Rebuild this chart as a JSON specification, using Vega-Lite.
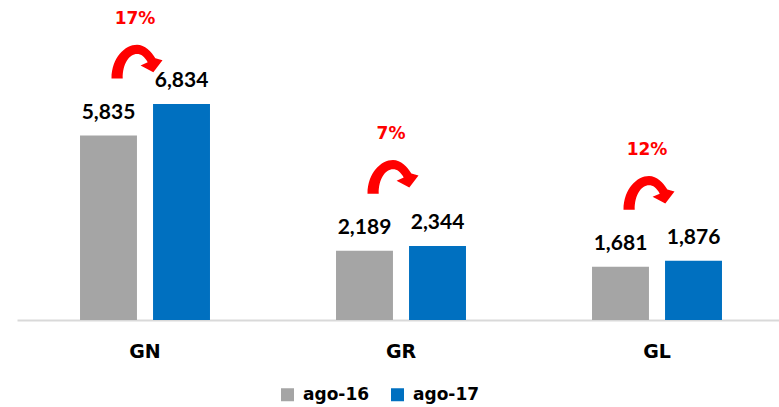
{
  "$schema": "https://vega.github.io/schema/vega-lite/v6.json",
  "width": 762,
  "height": 320,
  "autosize": {"type": "none"},
  "padding": {"left": 17, "top": 0, "right": 0, "bottom": 87},
  "background": "white",
  "config": {"view": {"stroke": null}},
  "data": {
    "values": [
      {"cat": "GN", "series": "ago-16", "value": 5835, "growth": "17%"},
      {"cat": "GN", "series": "ago-17", "value": 6834, "growth": "17%"},
      {"cat": "GR", "series": "ago-16", "value": 2189, "growth": "7%"},
      {"cat": "GR", "series": "ago-17", "value": 2344, "growth": "7%"},
      {"cat": "GL", "series": "ago-16", "value": 1681, "growth": "12%"},
      {"cat": "GL", "series": "ago-17", "value": 1876, "growth": "12%"}
    ]
  },
  "encoding": {
    "x": {
      "field": "cat",
      "type": "nominal",
      "sort": ["GN", "GR", "GL"],
      "scale": {"range": [0, 768], "paddingInner": 0, "paddingOuter": 0},
      "axis": {
        "title": null,
        "domainColor": "#d9d9d9",
        "domainWidth": 2,
        "ticks": false,
        "tickSize": 0,
        "labelPadding": 22,
        "labelFont": "DejaVu Sans",
        "labelFontWeight": "bold",
        "labelFontSize": 19,
        "labelColor": "#000000",
        "labelAngle": 0,
        "grid": false
      }
    },
    "y": {
      "field": "value",
      "type": "quantitative",
      "scale": {"domain": [0, 10124], "nice": false},
      "axis": null
    }
  },
  "layer": [
    {
      "mark": {"type": "bar"},
      "encoding": {
        "xOffset": {
          "field": "series",
          "type": "nominal",
          "sort": ["ago-16", "ago-17"],
          "scale": {"paddingInner": 0.22, "paddingOuter": 0.863}
        },
        "color": {
          "field": "series",
          "type": "nominal",
          "scale": {"domain": ["ago-16", "ago-17"], "range": ["#a5a5a5", "#0070c0"]},
          "legend": {
            "orient": "none",
            "legendX": 262,
            "legendY": 386,
            "direction": "horizontal",
            "title": null,
            "symbolType": "square",
            "symbolSize": 169,
            "symbolStrokeWidth": 0,
            "labelFont": "DejaVu Sans",
            "labelFontWeight": "bold",
            "labelFontSize": 17,
            "labelColor": "#000000",
            "labelOffset": 7,
            "columnPadding": 19,
            "padding": 0
          }
        }
      }
    },
    {
      "mark": {
        "type": "text",
        "dy": -17,
        "baseline": "alphabetic",
        "font": "Lato",
        "fontWeight": "bold",
        "fontSize": 21,
        "color": "#000000"
      },
      "encoding": {
        "xOffset": {
          "field": "series",
          "type": "nominal",
          "sort": ["ago-16", "ago-17"],
          "scale": {"paddingInner": 0.22, "paddingOuter": 0.863}
        },
        "text": {"field": "value", "type": "quantitative", "format": ",.0f"}
      }
    },
    {
      "transform": [{"filter": "datum.series === 'ago-16'"}],
      "mark": {
        "type": "point",
        "shape": "M -1 0.66 C -0.99 -0.16 -0.47 -0.66 0 -0.66 C 0.31 -0.66 0.56 -0.4 0.72 -0.13 L 1 -0.05 L 0.64 0.42 L 0.14 0.15 L 0.42 0.03 C 0.3 -0.2 0.16 -0.3 0 -0.3 C -0.3 -0.3 -0.57 0.08 -0.56 0.66 Z",
        "size": 2601,
        "filled": true,
        "color": "#ff0000",
        "opacity": 1,
        "strokeWidth": 0,
        "xOffset": -8,
        "yOffset": -74
      },
      "encoding": {}
    },
    {
      "transform": [{"filter": "datum.series === 'ago-16'"}],
      "mark": {
        "type": "text",
        "font": "DejaVu Sans",
        "fontWeight": "bold",
        "fontSize": 17,
        "color": "#ff0000",
        "baseline": "middle",
        "xOffset": -10,
        "yOffset": -117
      },
      "encoding": {"text": {"field": "growth", "type": "nominal"}}
    }
  ]
}
